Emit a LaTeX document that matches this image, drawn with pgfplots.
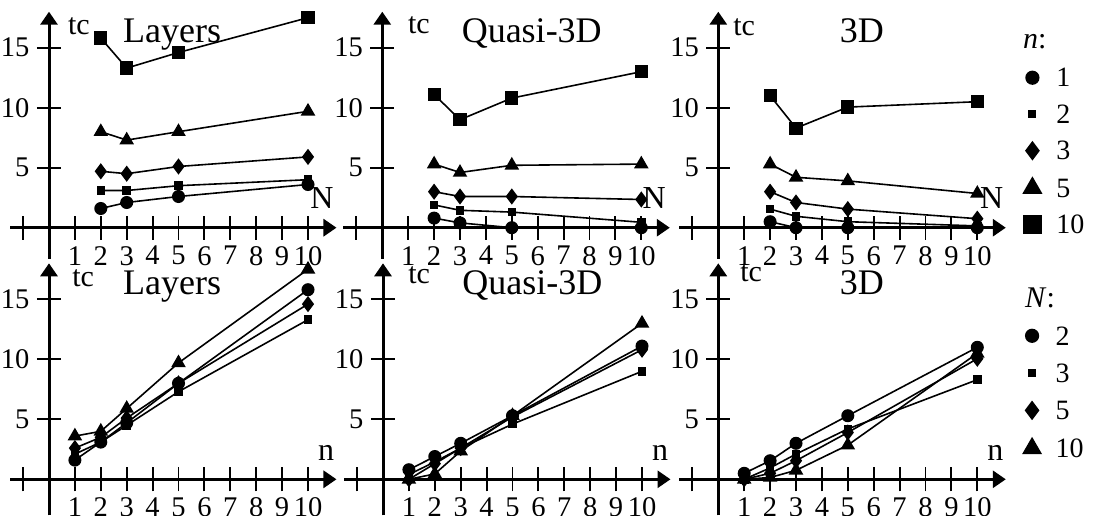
\documentclass[border=0pt]{standalone}
\usepackage{fontspec}
\setmainfont{Liberation Serif}
\usepackage{pgfplots}
\pgfplotsset{compat=1.18}
\usepackage{pgfplotstable}
\usetikzlibrary{arrows.meta}

% top panels: x = N, one column per n
\pgfplotstableread{
N n1 n2 n3 n5 n10
2 1.6 3.1 4.7 8.0 15.8
3 2.1 3.1 4.5 7.3 13.3
5 2.6 3.5 5.1 8.0 14.6
10 3.6 4.0 5.9 9.7 17.5
}\LayersTop
\pgfplotstableread{
N n1 n2 n3 n5 n10
2 0.8 1.9 3.0 5.3 11.1
3 0.4 1.45 2.6 4.6 9.0
5 0 1.3 2.6 5.2 10.8
10 0 0.45 2.35 5.3 13.0
}\QuasiTop
\pgfplotstableread{
N n1 n2 n3 n5 n10
2 0.5 1.55 3.0 5.3 11.0
3 0 0.95 2.1 4.2 8.3
5 0 0.5 1.55 3.9 10.05
10 0 0.15 0.75 2.85 10.5
}\ThreeDTop
% bottom panels: x = n, one column per N
\pgfplotstableread{
n N2 N3 N5 N10
1 1.6 2.1 2.6 3.6
2 3.1 3.1 3.5 4.0
3 4.7 4.5 5.1 5.9
5 8.0 7.3 8.0 9.7
10 15.8 13.3 14.6 17.5
}\LayersBot
\pgfplotstableread{
n N2 N3 N5 N10
1 0.8 0.4 0 0
2 1.9 1.45 1.3 0.45
3 3.0 2.6 2.6 2.35
5 5.3 4.6 5.2 5.3
10 11.1 9.0 10.8 13.0
}\QuasiBot
\pgfplotstableread{
n N2 N3 N5 N10
1 0.5 0 0 0
2 1.55 0.95 0.5 0.15
3 3.0 2.1 1.55 0.75
5 5.3 4.2 3.9 2.85
10 11.0 8.3 10.05 10.5
}\ThreeDBot

\tikzset{
  ttl/.style={font=\fontsize{36}{38}\selectfont, anchor=base, inner sep=0pt},
  tcl/.style={font=\fontsize{30}{32}\selectfont, anchor=base west, inner sep=0pt},
  xl/.style={font=\fontsize{32}{34}\selectfont, inner sep=0pt},
  lt/.style={font=\fontsize{30}{32}\selectfont, anchor=base west, inner sep=0pt},
}
\pgfplotsset{
  panel/.style={
    x=25.9pt, y=12pt,
    xmin=-1.5, xmax=11.1, ymax=18,
    axis lines=middle,
    axis line style={line width=3pt, -{Triangle[length=13pt,width=17pt]}},
    xtick={-1,1,2,3,4,5,6,7,8,9,10},
    xticklabels={{},1,2,3,4,5,6,7,8,9,10},
    ytick={5,10,15},
    tick align=center, major tick length=24pt,
    tick style={line width=1.9pt, black},
    ticklabel style={font=\fontsize{28.5}{30}\selectfont},
    /pgf/number format/assume math mode=true,
    xticklabel style={yshift=-3pt},
    yticklabel style={xshift=-4pt},
    clip=false,
    anchor=origin,
  },
  ser/.style={black, line width=1.6pt, mark options={solid, fill=black}},
  m1/.style={ser, mark=*, mark size=5.7pt},
  m2/.style={ser, mark=square*, mark size=3.5pt},
  m3/.style={ser, mark=diamond*, mark size=6.8pt},
  m5/.style={ser, mark=triangle*, mark size=6.8pt},
  m10/.style={ser, mark=square*, mark size=5.8pt},
  l1/.style={only marks, ser, mark=*, mark size=6.3pt},
  l2/.style={only marks, ser, mark=square*, mark size=3.2pt},
  l3/.style={only marks, ser, mark=diamond*, mark size=8.5pt},
  l5/.style={only marks, ser, mark=triangle*, mark size=10pt},
  l10/.style={only marks, ser, mark=square*, mark size=9pt},
  leg/.style={
    legend cell align=left,
    legend style={draw=none, fill=none, inner sep=0pt, outer sep=0pt,
      anchor=north west, column sep=15pt,
      font=\fontsize{28}{30}\selectfont,
      nodes={inner sep=0pt, text height=18.5pt, text depth=0pt}},
  },
}

\begin{document}
\begin{tikzpicture}
\path[use as bounding box] (0,0) rectangle (1094pt,515pt);

% ---------------- top row: x = N ----------------
\begin{axis}[panel, ymin=-2.6, at={(49pt,287.3pt)}]
\addplot[m1] table[x=N,y=n1] {\LayersTop};
\addplot[m2] table[x=N,y=n2] {\LayersTop};
\addplot[m3] table[x=N,y=n3] {\LayersTop};
\addplot[m5] table[x=N,y=n5] {\LayersTop};
\addplot[m10] table[x=N,y=n10] {\LayersTop};
\node[ttl] at (axis cs:4.75,15.4) {Layers};
\node[tcl] at (axis cs:0.73,16.06) {tc};
\node[xl, anchor=base west] at (axis cs:10.08,1.64) {N};
\end{axis}

\begin{axis}[panel, ymin=-2.6, at={(382.3pt,287.3pt)}]
\addplot[m1] table[x=N,y=n1] {\QuasiTop};
\addplot[m2] table[x=N,y=n2] {\QuasiTop};
\addplot[m3] table[x=N,y=n3] {\QuasiTop};
\addplot[m5] table[x=N,y=n5] {\QuasiTop};
\addplot[m10] table[x=N,y=n10] {\QuasiTop};
\node[ttl] at (axis cs:5.77,15.4) {Quasi-3D};
\node[tcl] at (axis cs:0.99,16.2) {tc};
\node[xl, anchor=base west] at (axis cs:10.04,1.64) {N};
\end{axis}

\begin{axis}[panel, leg, ymin=-2.6, at={(718.3pt,287.3pt)},
  legend style={at={(axis cs:11.78,13.27)}, row sep=18pt}]
\addlegendimage{l1}\addlegendentry{1}
\addlegendimage{l2}\addlegendentry{2}
\addlegendimage{l3}\addlegendentry{3}
\addlegendimage{l5}\addlegendentry{5}
\addlegendimage{l10}\addlegendentry{10}
\addplot[m1, forget plot] table[x=N,y=n1] {\ThreeDTop};
\addplot[m2, forget plot] table[x=N,y=n2] {\ThreeDTop};
\addplot[m3, forget plot] table[x=N,y=n3] {\ThreeDTop};
\addplot[m5, forget plot] table[x=N,y=n5] {\ThreeDTop};
\addplot[m10, forget plot] table[x=N,y=n10] {\ThreeDTop};
\node[ttl] at (axis cs:5.54,15.4) {3D};
\node[tcl] at (axis cs:0.57,16.05) {tc};
\node[xl, anchor=base west] at (axis cs:10.1,1.64) {N};
\node[lt] at (axis cs:11.76,14.9) {\textit{n}:};
\end{axis}

% ---------------- bottom row: x = n ----------------
\begin{axis}[panel, ymin=-3, at={(49pt,35.7pt)}]
\addplot[m1] table[x=n,y=N2] {\LayersBot};
\addplot[m2] table[x=n,y=N3] {\LayersBot};
\addplot[m3] table[x=n,y=N5] {\LayersBot};
\addplot[m5] table[x=n,y=N10] {\LayersBot};
\node[ttl] at (axis cs:4.75,15.44) {Layers};
\node[tcl] at (axis cs:0.89,16.1) {tc};
\node[xl, anchor=base] at (axis cs:10.7,1.55) {n};
\end{axis}

\begin{axis}[panel, ymin=-3, at={(383pt,35.7pt)}]
\addplot[m1] table[x=n,y=N2] {\QuasiBot};
\addplot[m2] table[x=n,y=N3] {\QuasiBot};
\addplot[m3] table[x=n,y=N5] {\QuasiBot};
\addplot[m5] table[x=n,y=N10] {\QuasiBot};
\node[ttl] at (axis cs:5.77,15.44) {Quasi-3D};
\node[tcl] at (axis cs:0.97,16.3) {tc};
\node[xl, anchor=base] at (axis cs:10.7,1.55) {n};
\end{axis}

\begin{axis}[panel, leg, ymin=-3, at={(718.3pt,35.7pt)},
  legend style={at={(axis cs:11.78,12.73)}, row sep=18.8pt}]
\addlegendimage{l1}\addlegendentry{2}
\addlegendimage{l2}\addlegendentry{3}
\addlegendimage{l3}\addlegendentry{5}
\addlegendimage{l5}\addlegendentry{10}
\addplot[m1, forget plot] table[x=n,y=N2] {\ThreeDBot};
\addplot[m2, forget plot] table[x=n,y=N3] {\ThreeDBot};
\addplot[m3, forget plot] table[x=n,y=N5] {\ThreeDBot};
\addplot[m5, forget plot] table[x=n,y=N10] {\ThreeDBot};
\node[ttl] at (axis cs:5.54,15.44) {3D};
\node[tcl] at (axis cs:0.84,16.45) {tc};
\node[xl, anchor=base] at (axis cs:10.7,1.55) {n};
\node[lt] at (axis cs:11.84,14.28) {\textit{N}:};
\end{axis}
\end{tikzpicture}
\end{document}
